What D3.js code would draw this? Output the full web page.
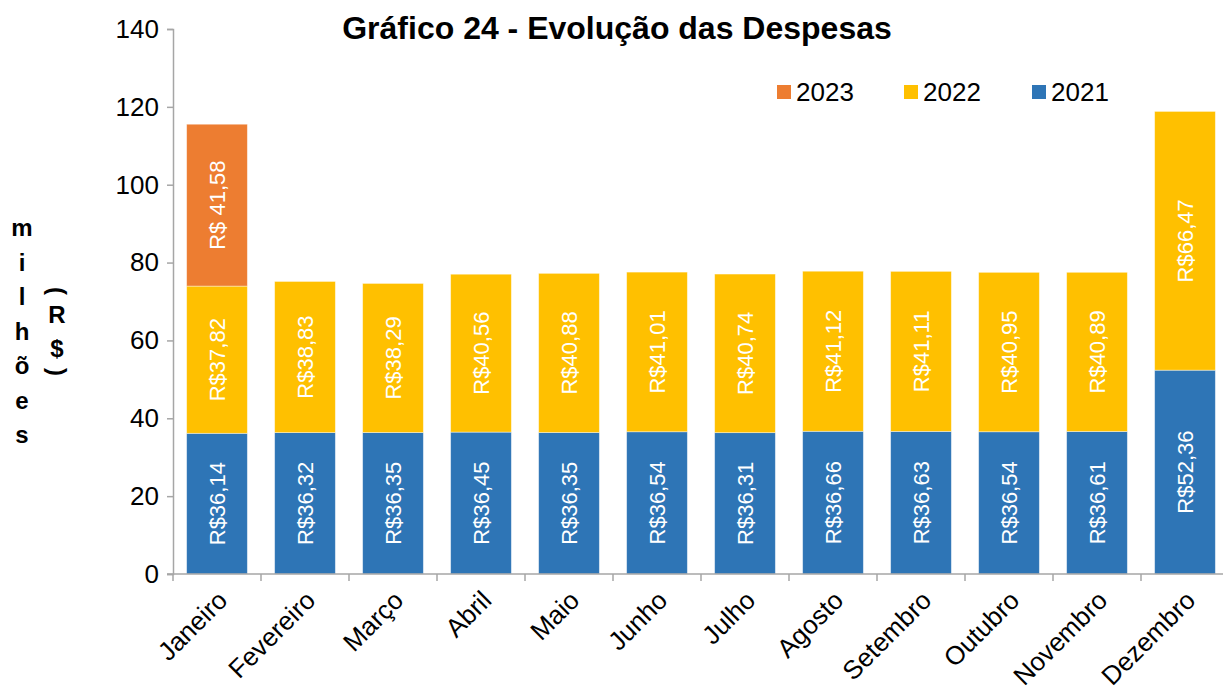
<!DOCTYPE html>
<html>
<head>
<meta charset="utf-8">
<script src="https://cdn.jsdelivr.net/npm/d3@7"></script>
<style>
  body { margin: 0; background: #fff; }
  svg text { font-family: "Liberation Sans", Arial, sans-serif; }
</style>
</head>
<body>
<div id="chart"></div>
<script>
// data
var months = ["Janeiro", "Fevereiro", "Março", "Abril", "Maio", "Junho", "Julho",
  "Agosto", "Setembro", "Outubro", "Novembro", "Dezembro"];
var v2021 = [36.14, 36.32, 36.35, 36.45, 36.35, 36.54, 36.31, 36.66, 36.63, 36.54, 36.61, 52.36];
var v2022 = [37.82, 38.83, 38.29, 40.56, 40.88, 41.01, 40.74, 41.12, 41.11, 40.95, 40.89, 66.47];
var v2023 = [41.58, 0, 0, 0, 0, 0, 0, 0, 0, 0, 0, 0];
var yTicks = [0, 20, 40, 60, 80, 100, 120, 140];
var seriesNames = ["2021", "2022", "2023"];
var colors = { "2021": "#2E75B6", "2022": "#FFC000", "2023": "#ED7D31" };

var W = 1223, H = 696;
var svg = d3.select("#chart").append("svg")
  .attr("width", W).attr("height", H);

// build table for stacking
var table = months.map(function (m, i) {
  return { month: m, "2021": v2021[i], "2022": v2022[i], "2023": v2023[i] };
});

var x = d3.scaleBand().domain(months).range([173, 1229]).paddingInner(0.31).paddingOuter(0.155);
var y = d3.scaleLinear().domain([0, 140]).range([574, 29]);

var stack = d3.stack().keys(seriesNames);
var layers = stack(table);

// bars
var layerG = svg.selectAll("g.layer")
  .data(layers)
  .enter().append("g")
  .attr("class", "layer")
  .attr("fill", function (d) { return colors[d.key]; });

layerG.selectAll("rect")
  .data(function (d) { return d.filter(function (s) { return s[1] - s[0] > 0; }); })
  .enter().append("rect")
  .attr("x", function (d) { return x(d.data.month); })
  .attr("y", function (d) { return y(d[1]); })
  .attr("width", x.bandwidth())
  .attr("height", function (d) { return y(d[0]) - y(d[1]); })
  .attr("stroke", "#ffffff")
  .attr("stroke-opacity", 0.5)
  .attr("stroke-width", 0.8);

// value labels
function fmt(key, v) {
  var s = v.toFixed(2).replace(".", ",");
  return key === "2023" ? "R$ " + s : "R$" + s;
}
layers.forEach(function (layer) {
  svg.append("g").selectAll("text")
    .data(layer.filter(function (s) { return s[1] - s[0] > 0; }))
    .enter().append("text")
    .attr("transform", function (d) {
      var cx = x(d.data.month) + x.bandwidth() / 2;
      var cy = (y(d[0]) + y(d[1])) / 2;
      return "translate(" + cx + "," + cy + ") rotate(-90)";
    })
    .attr("text-anchor", "middle")
    .attr("dy", "0.35em")
    .attr("fill", "#ffffff")
    .style("font-size", "22px")
    .text(function (d) { return fmt(layer.key, d[1] - d[0]); });
});

// y axis
var yAxis = svg.append("g")
  .attr("transform", "translate(173,0)")
  .call(d3.axisLeft(y).tickValues(yTicks).tickSize(6).tickPadding(8));
yAxis.selectAll("text").style("font-size", "26px").attr("fill", "#000");
yAxis.selectAll("line, path").attr("stroke", "#a6a6a6").attr("stroke-width", 1.5);

// x axis with ticks at band boundaries
svg.append("line")
  .attr("x1", 167).attr("x2", 1223)
  .attr("y1", y(0)).attr("y2", y(0))
  .attr("stroke", "#a6a6a6").attr("stroke-width", 1.5);
svg.selectAll("line.xtick")
  .data(months)
  .enter().append("line")
  .attr("class", "xtick")
  .attr("x1", function (d) { return x(d) - x.step() * x.paddingOuter(); })
  .attr("x2", function (d) { return x(d) - x.step() * x.paddingOuter(); })
  .attr("y1", y(0)).attr("y2", y(0) + 7)
  .attr("stroke", "#a6a6a6").attr("stroke-width", 1.5);

svg.selectAll("text.xlab")
  .data(months)
  .enter().append("text")
  .attr("class", "xlab")
  .attr("transform", function (d) {
    return "translate(" + (x(d) + x.bandwidth() / 2 + 12) + "," + 602 + ") rotate(-45)";
  })
  .attr("text-anchor", "end")
  .style("font-size", "26px")
  .attr("fill", "#000")
  .text(function (d) { return d; });

// title
svg.append("text")
  .attr("x", 617).attr("y", 39)
  .attr("text-anchor", "middle")
  .style("font-size", "32px")
  .style("font-weight", "bold")
  .text("Gráfico 24 - Evolução das Despesas");

// legend
var legendItems = [
  { key: "2023", x: 777 },
  { key: "2022", x: 904 },
  { key: "2021", x: 1032 }
];
var lg = svg.selectAll("g.legend")
  .data(legendItems)
  .enter().append("g")
  .attr("class", "legend")
  .attr("transform", function (d) { return "translate(" + d.x + ",85)"; });
lg.append("rect")
  .attr("width", 14).attr("height", 14)
  .attr("fill", function (d) { return colors[d.key]; });
lg.append("text")
  .attr("x", 19).attr("y", 7).attr("dy", "0.36em")
  .style("font-size", "26px")
  .text(function (d) { return d.key; });

// y axis title, stacked letters
var col1 = ["m", "i", "l", "h", "õ", "e", "s"];
svg.selectAll("text.ylab1")
  .data(col1)
  .enter().append("text")
  .attr("class", "ylab1")
  .attr("x", 22)
  .attr("y", function (d, i) { return 228 + i * 34.5; })
  .attr("dy", "0.35em")
  .attr("text-anchor", "middle")
  .style("font-size", "24px")
  .style("font-weight", "bold")
  .text(function (d) { return d; });

var col2 = [
  { t: "(", y: 291, rot: true },
  { t: "R", y: 315, rot: false },
  { t: "$", y: 349, rot: false },
  { t: ")", y: 372, rot: true }
];
svg.selectAll("text.ylab2")
  .data(col2)
  .enter().append("text")
  .attr("class", "ylab2")
  .attr("transform", function (d) {
    return "translate(57," + d.y + ")" + (d.rot ? " rotate(90)" : "");
  })
  .attr("dy", "0.35em")
  .attr("text-anchor", "middle")
  .style("font-size", "24px")
  .style("font-weight", "bold")
  .text(function (d) { return d.t; });
</script>
</body>
</html>
